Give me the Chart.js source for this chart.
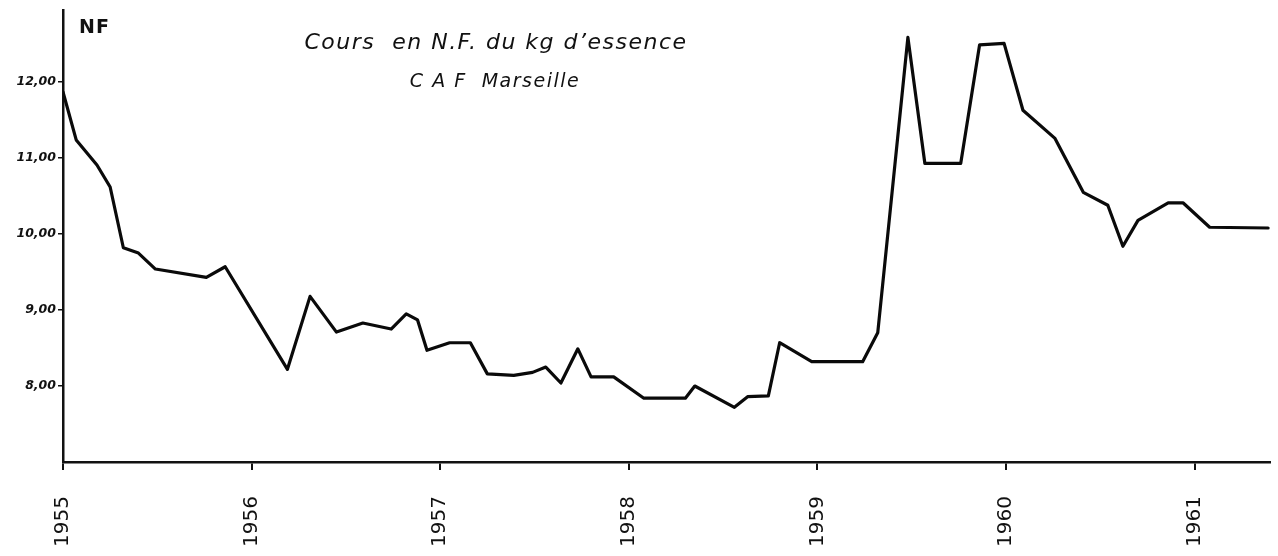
<!DOCTYPE html>
<html>
<head>
<meta charset="utf-8">
<script src="https://cdn.jsdelivr.net/npm/chart.js@4.4.1/dist/chart.umd.min.js"></script>
<style>
  html, body { margin: 0; padding: 0; background: #fff; }
  #wrap { width: 1278px; height: 556px; position: relative; }
</style>
</head>
<body>
<div id="wrap"><canvas id="coursChart" width="1278" height="556"></canvas></div>
<script>
// Dates (annee decimale) et cours en N.F. du kg d'essence, CAF Marseille
const dates = [
  1955.00, 1955.07, 1955.18, 1955.25, 1955.32, 1955.40, 1955.49, 1955.76, 1955.86,
  1956.19, 1956.31, 1956.45, 1956.59, 1956.74, 1956.82, 1956.88, 1956.93,
  1957.05, 1957.16, 1957.25, 1957.39, 1957.49, 1957.56, 1957.64, 1957.73, 1957.80, 1957.92,
  1958.08, 1958.30, 1958.35, 1958.56, 1958.63, 1958.74, 1958.80, 1958.97,
  1959.24, 1959.32, 1959.48, 1959.57, 1959.76, 1959.86, 1959.99,
  1960.09, 1960.26, 1960.41, 1960.54, 1960.62, 1960.70, 1960.86, 1960.94,
  1961.08, 1961.39
];
const cours = [
  11.87, 11.24, 10.91, 10.62, 9.82, 9.75, 9.54, 9.43, 9.57,
  8.22, 9.18, 8.71, 8.83, 8.75, 8.95, 8.87, 8.47,
  8.57, 8.57, 8.16, 8.14, 8.18, 8.25, 8.04, 8.49, 8.12, 8.12,
  7.84, 7.84, 8.00, 7.72, 7.86, 7.87, 8.57, 8.32,
  8.32, 8.70, 12.59, 10.93, 10.93, 12.49, 12.51,
  11.63, 11.26, 10.55, 10.38, 9.84, 10.18, 10.41, 10.41,
  10.09, 10.08
];
const annees = [1955, 1956, 1957, 1958, 1959, 1960, 1961];
const niveaux = [8, 9, 10, 11, 12];

// textes du graphique
const textesPlugin = {
  id: 'textes',
  afterDraw(chart) {
    const ctx = chart.ctx;
    ctx.save();
    ctx.fillStyle = '#111';
    ctx.textBaseline = 'middle';
    ctx.font = 'bold 19px "DejaVu Sans"';
    ctx.textAlign = 'left';
    ctx.letterSpacing = '1px';
    ctx.fillText('NF', 79, 28);
    ctx.textAlign = 'center';
    ctx.font = 'italic 22px "DejaVu Sans"';
    ctx.letterSpacing = '1.5px';
    ctx.fillText('Cours  en N.F. du kg d\u2019essence', 496, 43);
    ctx.font = 'italic 19px "DejaVu Sans"';
    ctx.letterSpacing = '1.5px';
    ctx.fillText('C A F  Marseille', 495, 82);
    ctx.restore();
  }
};

const ctx = document.getElementById('coursChart');

const coursChart = new Chart(ctx, {
  type: 'line',
  data: {
    datasets: [{
      label: 'Cours',
      data: dates.map((d, i) => ({ x: d, y: cours[i] })),
      borderColor: '#0a0a0a',
      borderWidth: 3.2,
      borderJoinStyle: 'round',
      borderCapStyle: 'round',
      pointRadius: 0,
      tension: 0,
      fill: false
    }]
  },
  options: {
    responsive: false,
    animation: false,
    layout: { padding: { top: 10, right: 8, left: 0, bottom: 0 } },
    plugins: {
      legend: { display: false },
      tooltip: { enabled: false }
    },
    scales: {
      x: {
        type: 'linear',
        min: 1955,
        max: 1961.40,
        afterBuildTicks: scale => { scale.ticks = annees.map(v => ({ value: v })); },
        afterFit: scale => { scale.height = 94; },
        border: { display: true, color: '#111', width: 2.5 },
        grid: { display: true, drawOnChartArea: false, drawTicks: true, tickLength: 8, color: '#111', lineWidth: 2 },
        ticks: {
          minRotation: 90,
          maxRotation: 90,
          padding: 26,
          color: '#111',
          font: { family: 'DejaVu Sans', size: 20 },
          callback: v => String(v)
        }
      },
      y: {
        min: 7,
        max: 12.95,
        afterBuildTicks: scale => { scale.ticks = niveaux.map(v => ({ value: v })); },
        afterFit: scale => { scale.width = 63; },
        border: { display: true, color: '#111', width: 2.5 },
        grid: { display: true, drawOnChartArea: false, drawTicks: true, tickLength: 5, color: '#111', lineWidth: 1.5 },
        ticks: {
          padding: 2,
          color: '#111',
          font: { family: 'DejaVu Sans', size: 12.5, style: 'italic', weight: 'bold' },
          callback: v => v.toFixed(2).replace('.', ',')
        }
      }
    }
  },
  plugins: [textesPlugin]
});
</script>
</body>
</html>
